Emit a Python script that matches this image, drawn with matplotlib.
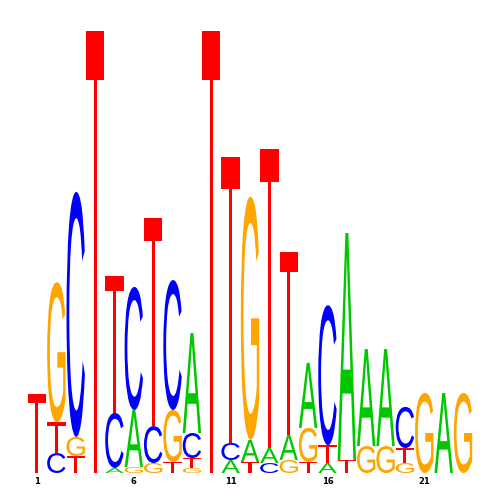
import numpy as np
import matplotlib
matplotlib.use("Agg")
import matplotlib.pyplot as plt
from matplotlib.textpath import TextPath
from matplotlib.patches import PathPatch
from matplotlib.font_manager import FontProperties
from matplotlib.transforms import Affine2D

# information (bits) of each base at positions 1..23
A = [0, 0, 0, 0, 0.023, 0.258, 0, 0, 0.452, 0, 0.059, 0.10, 0.068, 0.113,
     0.294, 0.045, 1.027, 0.439, 0.439, 0, 0, 0.362, 0]
C = [0, 0.09, 1.109, 0, 0.249, 0.557, 0.167, 0.588, 0.113, 0, 0.077, 0, 0.045,
     0, 0, 0.633, 0, 0, 0, 0.186, 0, 0, 0]
G = [0, 0.633, 0.086, 0, 0, 0.027, 0.045, 0.235, 0.023, 0, 0, 1.10, 0, 0.059,
     0.154, 0, 0, 0.122, 0.122, 0.045, 0.362, 0, 0.362]
T = [0.357, 0.14, 0.077, 2.0, 0.62, 0, 0.941, 0.05, 0.045, 2.0, 1.294, 0.05,
     1.353, 0.828, 0.05, 0.081, 0.059, 0, 0, 0.068, 0, 0, 0]
tick_pos = [1, 6, 11, 16, 21]

colors = {"A": "#00C800", "C": "#0000FF", "G": "#FFA500", "T": "#FF0000"}
fp = FontProperties(family="Liberation Sans")

# cache glyph paths
glyphs = {}
for b in "ACGT":
    p = TextPath((0, 0), b, size=1, prop=fp)
    glyphs[b] = (p, p.get_extents())


def draw_letter(ax, base, xc, y0, w, h):
    p, ext = glyphs[base]
    tr = (Affine2D().translate(-ext.x0, -ext.y0)
          .scale(w / ext.width, h / ext.height)
          .translate(xc - w / 2, y0))
    ax.add_patch(PathPatch(tr.transform_path(p), fc=colors[base], ec="none"))


fig = plt.figure(figsize=(5, 5), dpi=100)
ax = fig.add_axes([0.0546, 0.054, 0.8908, 0.884])

n = len(A)
for i in range(n):
    stack = sorted(zip([A[i], C[i], G[i], T[i]], "ACGT"))
    y = 0.0
    for h, b in stack:
        if h <= 0:
            continue
        draw_letter(ax, b, i + 1, y, 0.95, h)
        y += h

ax.set_xlim(0.5, n + 0.5)
ax.set_ylim(0, 2)
ax.set_xticks(tick_pos)
ax.set_xticklabels([str(t) for t in tick_pos], fontsize=6, fontweight="bold")
ax.tick_params(axis="x", length=0, pad=3)
ax.set_yticks([])
for s in ax.spines.values():
    s.set_visible(False)

fig.savefig("out.png", dpi=100)
